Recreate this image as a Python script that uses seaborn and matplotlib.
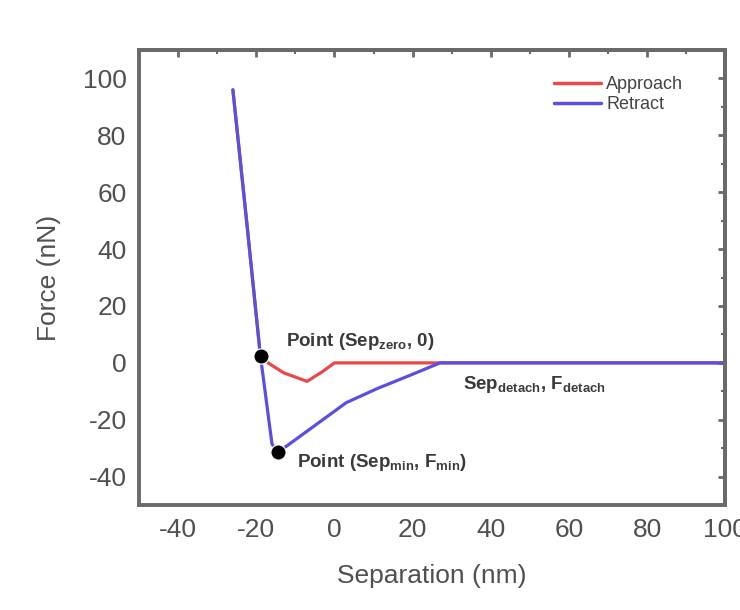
import numpy as np
import pandas as pd
import matplotlib
matplotlib.use('Agg')
import matplotlib.pyplot as plt
import seaborn as sns

# approach curve
approach_sep = [-26, -22.5, -19, -17, -13, -7, -3, 0, 5, 20, 40, 60, 80, 100]
approach_force = [96, 50, 3, 0, -3.5, -6.5, -3, 0, 0, 0, 0, 0, 0, 0]

# retract curve
retract_sep = [-26, -22.5, -19, -16, -14.5, -9, -3, 3, 11, 20, 27, 40, 60, 80, 100]
retract_force = [96, 50, 3, -28.5, -31.5, -26, -20, -14, -9, -4, 0, 0, 0, 0, 0]

# marked points
point_sep = [-18.8, -14.5]
point_force = [2.5, -31.5]

df = pd.concat([
    pd.DataFrame({'sep': approach_sep, 'force': approach_force, 'curve': 'Approach'}),
    pd.DataFrame({'sep': retract_sep, 'force': retract_force, 'curve': 'Retract'}),
])

sns.set_style('white')
plt.rcParams['font.family'] = ['Liberation Sans', 'DejaVu Sans']
plt.rcParams['axes.unicode_minus'] = False
plt.rcParams['mathtext.default'] = 'regular'
grey = '#505050'
spine_col = '#6a6a6a'

fig = plt.figure(figsize=(7.4, 6.1), dpi=100)
ax = fig.add_axes([0.188, 0.172, 0.792, 0.746])

sns.lineplot(data=df, x='sep', y='force', hue='curve', sort=False,
             palette={'Approach': '#e8484a', 'Retract': '#5a4fe0'},
             linewidth=2.3, ax=ax, estimator=None)
sns.scatterplot(x=point_sep, y=point_force, color='black', s=120, zorder=5,
                ax=ax, legend=False)

lab = dict(fontsize=13.5, color='#3a3a3a', fontweight='bold', va='center')
ax.text(-12.5, 7.5, 'Point (Sep$_{zero}$, 0)', **lab)
ax.text(33, -7.5, 'Sep$_{detach}$, F$_{detach}$', **lab)
ax.text(-9.5, -35, 'Point (Sep$_{min}$, F$_{min}$)', **lab)

ax.set_xlim(-50, 100)
ax.set_ylim(-50, 110)
xmaj = np.arange(-40, 101, 20)
ymaj = np.arange(-40, 101, 20)
xmin = np.arange(-50, 101, 10)
ymin = np.arange(-50, 111, 10)
ax.set_xticks(xmaj)
ax.set_yticks(ymaj)
ax.set_xticks(xmin, minor=True)
ax.set_yticks(ymin, minor=True)
ax.set_xlabel('Separation (nm)', fontsize=19, color=grey, labelpad=16)
ax.set_ylabel('Force (nN)', fontsize=19, color=grey, labelpad=16)

for s in ax.spines.values():
    s.set_linewidth(2.8)
    s.set_color(spine_col)
ax.tick_params(which='both', direction='out', colors=spine_col, labelcolor=grey)
ax.tick_params(which='major', length=5, width=2, labelsize=19, pad=4)
ax.tick_params(which='minor', length=3, width=1.5)

# inward ticks on top and right
top = ax.secondary_xaxis('top')
top.set_xticks(xmaj)
top.set_xticks(xmin, minor=True)
right = ax.secondary_yaxis('right')
right.set_yticks(ymaj)
right.set_yticks(ymin, minor=True)
for sec in (top, right):
    sec.tick_params(which='both', direction='in', colors=spine_col,
                    labeltop=False, labelright=False)
    sec.tick_params(which='major', length=5, width=2)
    sec.tick_params(which='minor', length=3, width=1.5)
    for s in sec.spines.values():
        s.set_linewidth(2.8)
        s.set_color(spine_col)

leg = ax.legend(loc='upper right', bbox_to_anchor=(0.95, 0.97), fontsize=13,
                frameon=False, handlelength=2.6, borderpad=0.2,
                labelspacing=0.15, handletextpad=0.3)
for line in leg.get_lines():
    line.set_linewidth(2.5)
for txt in leg.get_texts():
    txt.set_color('#444444')

fig.savefig('out.png', dpi=100)
